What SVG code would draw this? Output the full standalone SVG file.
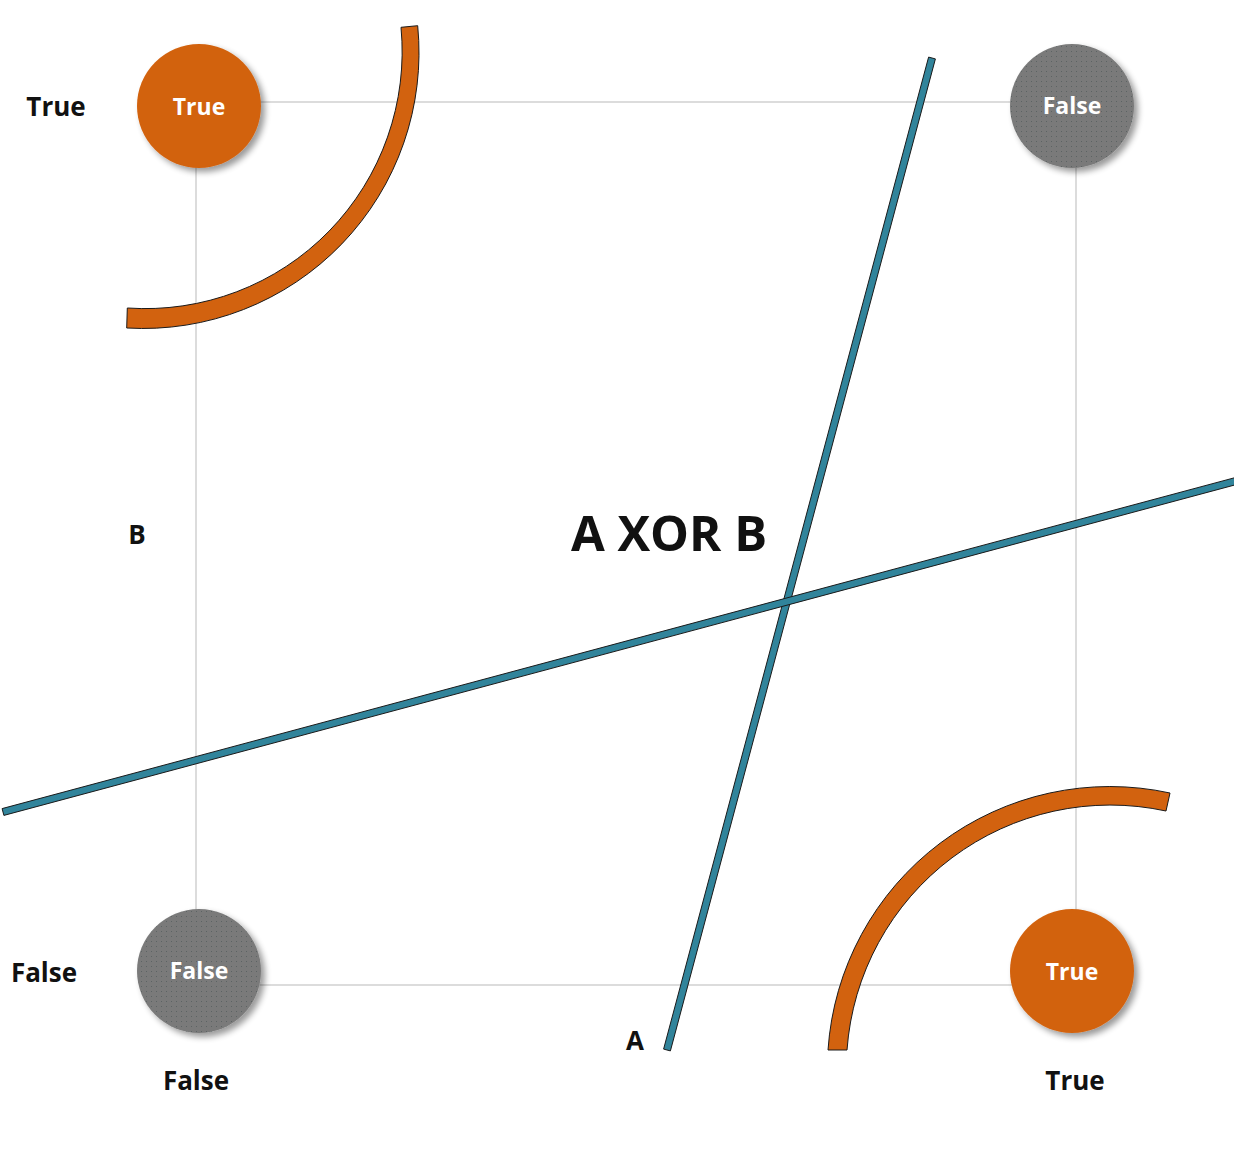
<svg xmlns="http://www.w3.org/2000/svg" width="1234" height="1160" viewBox="0 0 1234 1160">
<style>
.grid{fill:none;stroke:#CACACA;stroke-width:1.3}
.lbl{font-family:"Open Sans","Liberation Sans",sans-serif;font-weight:bold;fill:#111;text-anchor:middle}
.ctxt{font-family:"Open Sans","Liberation Sans",sans-serif;font-weight:bold;fill:#fff;font-size:23px;text-anchor:middle}
.orange{fill:#D2620F}
.gray{fill:url(#dots)}
.arc{fill:#D2620F;stroke:#1a1a1a;stroke-width:1}
.sep{fill:#31849B;stroke:#1a1a1a;stroke-width:1}
</style>
<defs>
<filter id="sh" x="-30%" y="-30%" width="160%" height="160%">
<feGaussianBlur in="SourceAlpha" stdDeviation="3"/>
<feOffset dx="4" dy="4" result="b"/>
<feComponentTransfer><feFuncA type="linear" slope="0.4"/></feComponentTransfer>
<feMerge><feMergeNode/><feMergeNode in="SourceGraphic"/></feMerge>
</filter>
<pattern id="dots" width="5" height="5" patternUnits="userSpaceOnUse">
<rect width="5" height="5" fill="#7A7A7A"/>
<rect x="1" y="1" width="1" height="1" fill="#5C6464"/>
</pattern>
</defs>
<rect width="1234" height="1160" fill="#fff"/>
<g id="connectors">
<rect class="grid" x="196" y="102" width="880" height="883"/>
</g>
<g id="node-tt">
<circle class="orange" cx="199" cy="106" r="62" filter="url(#sh)"/>
<text class="ctxt" x="199" y="115">True</text>
</g>
<g id="node-ft">
<circle class="gray" cx="1072" cy="106" r="62" filter="url(#sh)"/>
<text class="ctxt" x="1072" y="114">False</text>
</g>
<g id="node-ff">
<circle class="gray" cx="199" cy="971" r="62" filter="url(#sh)"/>
<text class="ctxt" x="199" y="979">False</text>
</g>
<g id="node-tf">
<circle class="orange" cx="1072" cy="971" r="62" filter="url(#sh)"/>
<text class="ctxt" x="1072" y="980">True</text>
</g>
<g id="arcs">
<path class="arc" d="M 417.7 25.7 A 276 276 0 0 1 126.7 328 L 127.3 308 A 257 257 0 0 0 401 27.3 Z"/>
<path class="arc" d="M 828 1050 A 282.5 282.5 0 0 1 1170 793 L 1166 811 A 264 264 0 0 0 847 1050 Z"/>
</g>
<g id="separators">
<polygon class="sep" points="928.6,57.1 935.4,58.9 670.4,1050.9 663.6,1049.1"/>
<polygon class="sep" points="2.1,808.6 1235.1,477.6 1236.9,484.4 3.9,815.4"/>
</g>
<g id="labels">
<text class="lbl" x="56" y="116" font-size="26">True</text>
<text class="lbl" x="44" y="982" font-size="26">False</text>
<text class="lbl" x="196" y="1090" font-size="26">False</text>
<text class="lbl" x="1075" y="1090" font-size="26">True</text>
<text class="lbl" x="137" y="544" font-size="26">B</text>
<text class="lbl" x="635" y="1050" font-size="26">A</text>
<text class="lbl" x="669" y="551" font-size="49">A XOR B</text>
</g>
</svg>
